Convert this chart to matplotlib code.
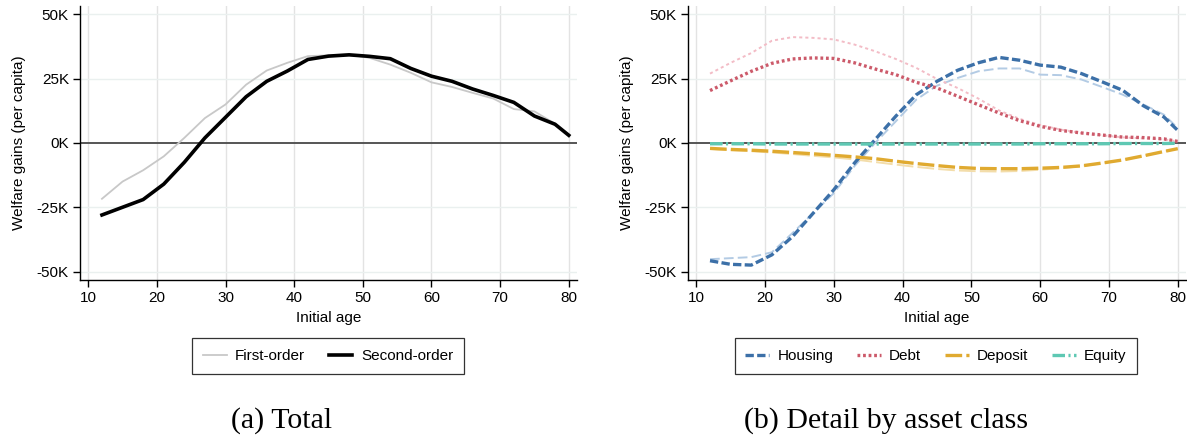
import matplotlib
matplotlib.use("Agg")
import matplotlib.pyplot as plt
from matplotlib.ticker import FuncFormatter, FixedLocator

# ---------------- data (thousands per capita) ----------------
ages = [12, 15, 18, 21, 24, 27, 30, 33, 36, 39, 42, 45, 48, 51, 54, 57, 60, 63, 66, 69, 72, 75, 78, 80]

total_first = [-21.7, -15.0, -10.6, -5.2, 2.0, 9.7, 15.0, 22.7, 28.2, 31.2, 33.8, 34.1, 34.4, 33.1,
               30.5, 27.3, 23.6, 21.8, 19.5, 17.3, 13.2, 12.3, 7.5, 3.0]
total_second = [-28.0, -25.0, -22.0, -16.0, -7.5, 2.0, 10.0, 18.0, 24.0, 28.0, 32.5, 33.8, 34.3, 33.7,
                32.8, 29.0, 26.0, 24.0, 21.0, 18.5, 15.8, 10.5, 7.3, 3.0]

housing_second = [-45.8, -47.2, -47.5, -43.5, -36.4, -27.3, -18.2, -7.8, 1.3, 10.4, 18.8, 24.0, 28.3, 31.2,
                  33.3, 32.2, 30.3, 29.5, 27.0, 23.8, 20.5, 14.5, 10.1, 4.9]
housing_first = [-45.2, -44.8, -44.4, -42.5, -35.0, -27.3, -19.5, -9.0, 0.0, 8.4, 16.9, 22.3, 25.3, 27.9,
                 29.0, 29.0, 26.6, 26.4, 24.7, 21.8, 18.8, 15.0, 11.0, 5.8]
debt_second = [20.4, 24.2, 27.9, 31.0, 32.7, 33.1, 32.9, 31.2, 28.8, 26.6, 23.6, 21.4, 18.2, 14.9,
               11.7, 8.7, 6.5, 4.9, 3.9, 3.1, 2.3, 2.1, 1.6, 0.6]
debt_first = [27.0, 31.2, 35.0, 39.8, 41.2, 40.9, 40.3, 38.3, 35.7, 32.7, 29.2, 24.9, 21.4, 17.3,
              12.7, 9.4, 7.0, 5.2, 3.9, 3.0, 2.2, 1.8, 1.4, 0.6]
deposit_second = [-2.1, -2.5, -2.8, -3.2, -3.7, -4.2, -4.8, -5.4, -6.1, -7.1, -8.0, -8.8, -9.5, -9.9,
                  -10.0, -10.0, -9.8, -9.5, -8.9, -7.8, -6.6, -5.0, -3.3, -2.2]
deposit_first = [-2.3, -2.8, -3.2, -3.7, -4.3, -5.0, -5.6, -6.4, -7.4, -8.4, -9.3, -10.1, -10.7, -11.0,
                 -11.1, -10.9, -10.4, -9.8, -9.0, -7.9, -6.6, -5.0, -3.3, -2.2]
equity_second = [-0.3, -0.3, -0.3, -0.4, -0.4, -0.4, -0.4, -0.4, -0.4, -0.4, -0.4, -0.4, -0.4, -0.4,
                 -0.4, -0.4, -0.3, -0.3, -0.3, -0.3, -0.2, -0.2, -0.2, -0.1]
equity_first = [-0.2, -0.2, -0.2, -0.3, -0.3, -0.3, -0.3, -0.3, -0.3, -0.3, -0.3, -0.3, -0.3, -0.3,
                -0.3, -0.3, -0.2, -0.2, -0.2, -0.2, -0.2, -0.1, -0.1, -0.1]

xticks = [10, 20, 30, 40, 50, 60, 70, 80]
yticks = [-50, -25, 0, 25, 50]
captions = ["(a) Total", "(b) Detail by asset class"]

# ---------------- style ----------------
plt.rcParams['font.family'] = ['Liberation Sans', 'DejaVu Sans']
plt.rcParams['lines.scale_dashes'] = False
FS = 11

fig = plt.figure(figsize=(11.87, 4.41), dpi=100)
axL = fig.add_axes([80 / 1187, 1 - 280 / 441, 497 / 1187, 274 / 441])
axR = fig.add_axes([688 / 1187, 1 - 280 / 441, 498 / 1187, 274 / 441])


def style(ax):
    ax.set_xlim(8.8, 81.2)
    ax.set_ylim(-53.3, 53.3)
    ax.xaxis.set_major_locator(FixedLocator(xticks))
    ax.yaxis.set_major_locator(FixedLocator(yticks))
    ax.yaxis.set_major_formatter(FuncFormatter(lambda v, p: f"{v:.0f}K"))
    for x in xticks:
        ax.axvline(x, color='#e3e3e3', lw=1.0, zorder=0)
    for y in [-50, -25, 25, 50]:
        ax.axhline(y, color='#eaf0ef', lw=1.0, zorder=0)
    ax.axhline(0, color='#555555', lw=1.4, zorder=1)
    for s in ['top', 'right']:
        ax.spines[s].set_visible(False)
    for s in ['left', 'bottom']:
        ax.spines[s].set_color('black')
        ax.spines[s].set_linewidth(1.0)
    ax.tick_params(axis='both', direction='out', length=5, width=1.0, labelsize=FS, colors='black', pad=3)
    ax.set_xlabel("Initial age", fontsize=FS, labelpad=4)
    ax.set_ylabel("Welfare gains (per capita)", fontsize=FS, labelpad=8)
    ax.set_facecolor('white')


style(axL)
style(axR)

leg_kw = dict(loc='center', bbox_transform=fig.transFigure, fontsize=FS, frameon=True, fancybox=False,
              edgecolor='black', handlelength=1.55, columnspacing=1.55, borderpad=0.7,
              handletextpad=0.55)

# ---- left panel ----
l1, = axL.plot(ages, total_first, color='#c8c8c8', lw=1.3, zorder=3, label='First-order')
l2, = axL.plot(ages, total_second, color='black', lw=2.6, zorder=4, label='Second-order')
legL = axL.legend(handles=[l1, l2], bbox_to_anchor=(328 / 1187, 1 - 356 / 441), ncol=2, **leg_kw)
legL.get_frame().set_linewidth(0.9)

# ---- right panel ----
c_h, c_hl = '#3c70a8', '#b3cbe4'
c_d, c_dl = '#cc5a6a', '#f3bcc6'
c_p, c_pl = '#e0aa30', '#f3ddaa'
c_e, c_el = '#5ec8b3', '#bde9df'

ls_h = (0, (6.0, 2.4))
ls_d = (0, (2.0, 2.0))
ls_p = (0, (12.0, 3.0))
ls_e = (0, (9.0, 2.5, 1.5, 2.5))

axR.plot(ages, housing_first, color=c_hl, lw=1.4, ls=(0, (7, 3)), zorder=2)
axR.plot(ages, debt_first, color=c_dl, lw=1.4, ls=(0, (2.2, 2.2)), zorder=2)
axR.plot(ages, deposit_first, color=c_pl, lw=1.4, ls=(0, (12, 3)), zorder=2)
axR.plot(ages, equity_first, color=c_el, lw=1.4, ls=(0, (9, 2.5, 1.5, 2.5)), zorder=2)

h1, = axR.plot(ages, housing_second, color=c_h, lw=2.4, ls=ls_h, zorder=4, label='Housing')
h2, = axR.plot(ages, debt_second, color=c_d, lw=2.4, ls=ls_d, zorder=4, label='Debt')
h3, = axR.plot(ages, deposit_second, color=c_p, lw=2.4, ls=ls_p, zorder=4, label='Deposit')
h4, = axR.plot(ages, equity_second, color=c_e, lw=2.4, ls=ls_e, zorder=4, label='Equity')

legR = axR.legend(handles=[h1, h2, h3, h4], bbox_to_anchor=(936 / 1187, 1 - 356 / 441), ncol=4, **leg_kw)
legR.get_frame().set_linewidth(0.9)

# ---- captions ----
fig.text(282 / 1187, 1 - 421 / 441, captions[0], ha='center', va='center', fontsize=21.5,
         family=['Liberation Serif', 'DejaVu Serif'])
fig.text(886 / 1187, 1 - 421 / 441, captions[1], ha='center', va='center', fontsize=21.5,
         family=['Liberation Serif', 'DejaVu Serif'])

fig.savefig("out.png", dpi=100, facecolor='white')
